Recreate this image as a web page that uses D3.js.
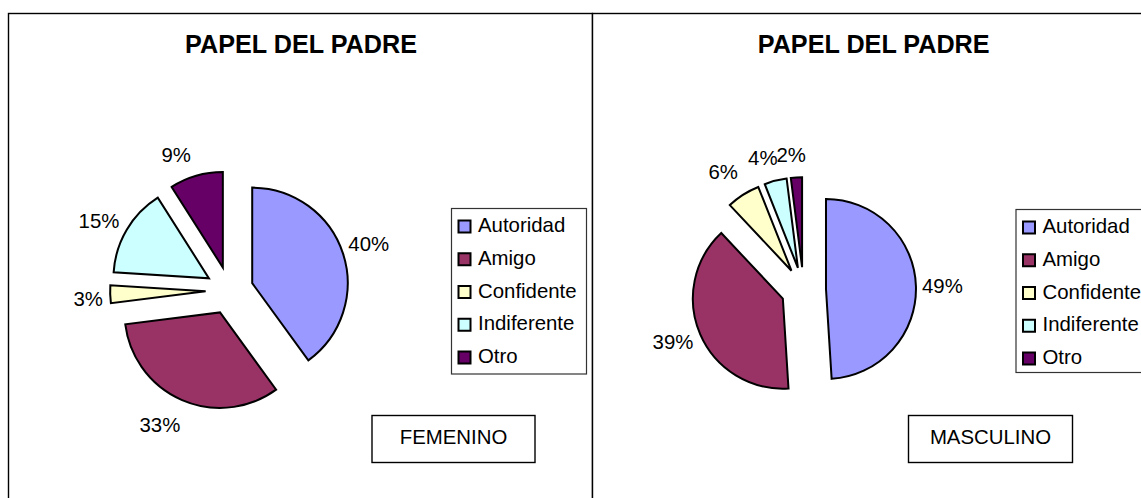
<!DOCTYPE html>
<html>
<head>
<meta charset="utf-8">
<script src="https://cdn.jsdelivr.net/npm/d3@7"></script>
<style>
  html, body { margin: 0; padding: 0; background: #ffffff; }
  svg { display: block; }
  text { font-family: "Liberation Sans", Arial, sans-serif; fill: #000; }
</style>
</head>
<body>
<svg id="chart" width="1141" height="498"></svg>
<script>
// ---- data ----
const categories = ["Autoridad", "Amigo", "Confidente", "Indiferente", "Otro"];
const femeninoValues = [40, 33, 3, 15, 9];
const masculinoValues = [49, 39, 6, 4, 2];
const chartTitle = "PAPEL DEL PADRE";
const groupLabels = ["FEMENINO", "MASCULINO"];

// ---- style ----
const sliceColors = ["#9999FF", "#993366", "#FFFFCC", "#CCFFFF", "#660066"];
const colorScale = d3.scaleOrdinal().domain(categories).range(sliceColors);
// small manual label nudges (px) as in the original "best fit" placement
const femLabelNudge = [[0, -1.5], [-11.5, 0], [5, 4], [-4.5, 4.5], [-12.5, 4.5]];
const masLabelNudge = [[-0.5, 0], [-2.5, -3], [-5.5, 0], [-6, 3], [-3.5, 4.5]];

const panels = [
  { values: femeninoValues, group: groupLabels[0], nudge: femLabelNudge,
    frame: { x: 8.5, y: 13.5, w: 584, h: 520 },
    titleX: 301, cx: 229.5, cy: 290.5, r: 95.5,
    legend: { x: 451.5, y: 208.5, w: 135, h: 165.5 },
    box: { x: 372, y: 415.5, w: 163, h: 47 } },
  { values: masculinoValues, group: groupLabels[1], nudge: masLabelNudge,
    frame: { x: 592.5, y: 13.5, w: 584, h: 520 },
    titleX: 873.7, cx: 803.5, cy: 289.7, r: 90,
    legend: { x: 1016, y: 209.5, w: 140, h: 163 },
    box: { x: 908.5, y: 415.5, w: 164, h: 47 } }
];

const svg = d3.select("#chart");
const bodyFont = 20.4;

panels.forEach(p => {
  const g = svg.append("g");

  // frame
  g.append("rect")
    .attr("x", p.frame.x).attr("y", p.frame.y)
    .attr("width", p.frame.w).attr("height", p.frame.h)
    .attr("fill", "#fff").attr("stroke", "#000").attr("stroke-width", 1.4);

  // title
  g.append("text")
    .attr("x", p.titleX).attr("y", 53.3)
    .attr("text-anchor", "middle")
    .attr("font-size", 25.2).attr("font-weight", "bold")
    .text(chartTitle);

  // pie
  const data = categories.map((c, i) => ({ cat: c, value: p.values[i] }));
  const pie = d3.pie().sort(null).value(d => d.value);
  const arcs = pie(data);
  const arc = d3.arc().innerRadius(0).outerRadius(p.r);
  const explode = p.r * 0.25;
  const labelDist = p.r + explode + 27;

  const pieG = g.append("g").attr("transform", `translate(${p.cx},${p.cy})`);

  arcs.forEach(a => {
    const mid = (a.startAngle + a.endAngle) / 2;
    const dx = Math.sin(mid) * explode, dy = -Math.cos(mid) * explode;
    pieG.append("path")
      .attr("d", arc(a))
      .attr("transform", `translate(${dx},${dy})`)
      .attr("fill", colorScale(a.data.cat))
      .attr("stroke", "#000")
      .attr("stroke-width", 2)
      .attr("stroke-linejoin", "miter");
  });

  const total = d3.sum(p.values);
  arcs.forEach((a, i) => {
    const mid = (a.startAngle + a.endAngle) / 2;
    pieG.append("text")
      .attr("x", Math.sin(mid) * labelDist + p.nudge[i][0])
      .attr("y", -Math.cos(mid) * labelDist + p.nudge[i][1])
      .attr("dy", "0.36em")
      .attr("text-anchor", "middle")
      .attr("font-size", bodyFont)
      .text(Math.round(a.data.value / total * 100) + "%");
  });

  // legend
  const L = p.legend;
  g.append("rect")
    .attr("x", L.x).attr("y", L.y).attr("width", L.w).attr("height", L.h)
    .attr("fill", "#fff").attr("stroke", "#333").attr("stroke-width", 1.2);
  const rowY = d3.scalePoint().domain(categories).range([L.y + 23.5, L.y + 23.5 + 4 * 32.75]);
  categories.forEach(c => {
    const by = rowY(c);
    g.append("rect")
      .attr("x", L.x + 7).attr("y", by - 11.5)
      .attr("width", 12).attr("height", 12)
      .attr("fill", colorScale(c)).attr("stroke", "#000").attr("stroke-width", 2);
    g.append("text")
      .attr("x", L.x + 26.5).attr("y", by)
      .attr("font-size", bodyFont)
      .text(c);
  });

  // group box
  const B = p.box;
  g.append("rect")
    .attr("x", B.x).attr("y", B.y).attr("width", B.w).attr("height", B.h)
    .attr("fill", "#fff").attr("stroke", "#000").attr("stroke-width", 1.4);
  g.append("text")
    .attr("x", B.x + B.w / 2).attr("y", B.y + 28.5)
    .attr("text-anchor", "middle")
    .attr("font-size", bodyFont)
    .text(p.group);
});
</script>
</body>
</html>
